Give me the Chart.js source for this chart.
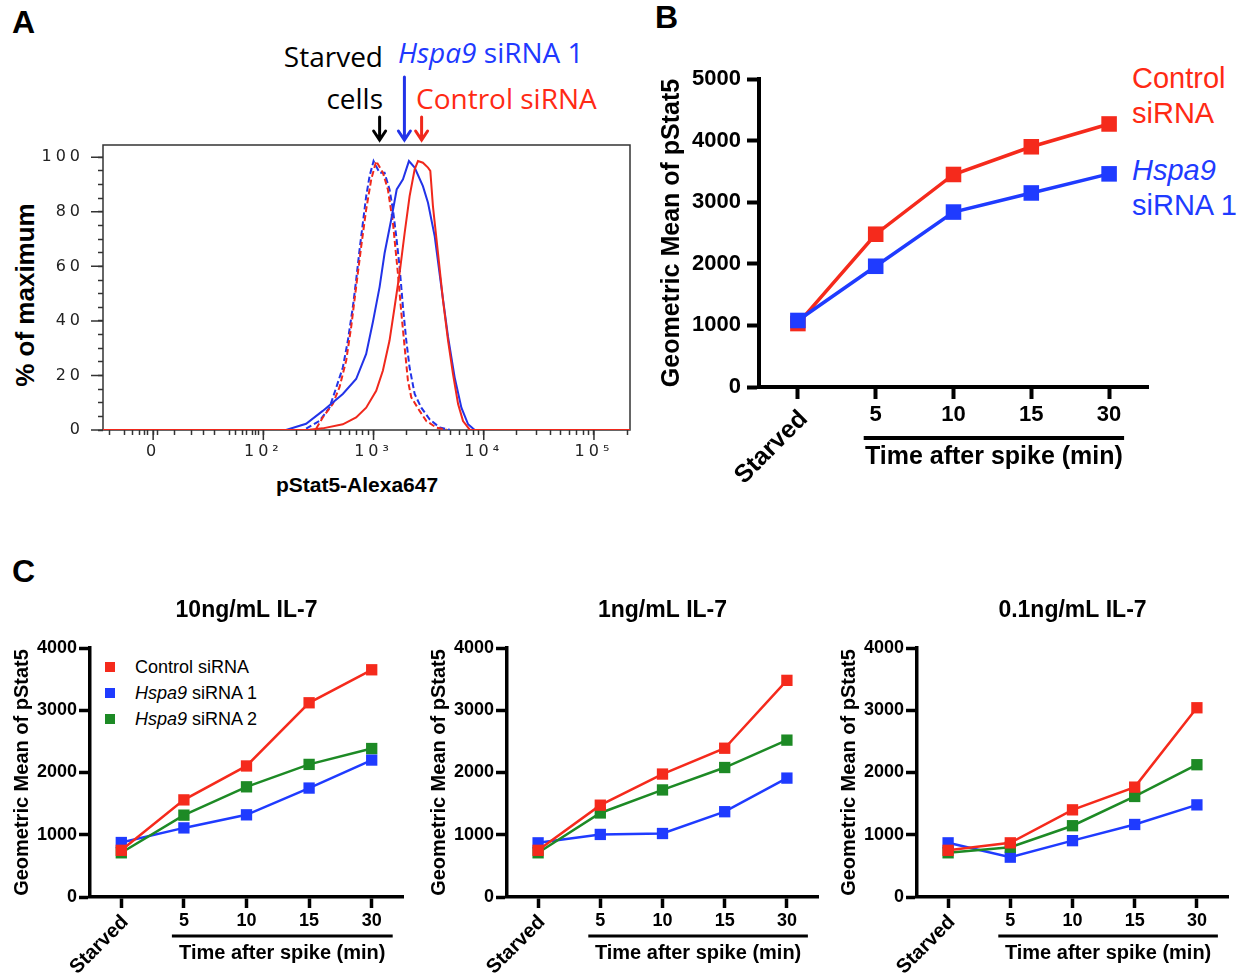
<!DOCTYPE html>
<html>
<head>
<meta charset="utf-8">
<script src="https://cdn.jsdelivr.net/npm/chart.js@4.4.1/dist/chart.umd.min.js"></script>
<style>
  html, body { margin: 0; padding: 0; background: #fff; }
  body { width: 1245px; height: 975px; position: relative; overflow: hidden; font-family: "Liberation Sans", Arial, sans-serif; }
  .box { position: absolute; }
  .lbl { position: absolute; white-space: nowrap; line-height: 1; }
  .panel { font-weight: bold; font-size: 32px; }
  .ann { font-family: "Open Sans", "Noto Sans", sans-serif; font-size: 28px; }
  .rot { transform: translate(-50%, -50%) rotate(-90deg); font-weight: bold; }
  .leg { font-size: 29px; }
  .cleg { font-size: 18px; }
  .sq { position: absolute; width: 10px; height: 10px; }
</style>
</head>
<body>
<div class="lbl panel" style="left:12px;top:6px">A</div>
<div class="lbl panel" style="left:655px;top:1px">B</div>
<div class="lbl panel" style="left:12px;top:555px">C</div>

<!-- panel A annotations -->
<div class="lbl ann" style="right:862px;top:42px">Starved</div>
<div class="lbl ann" style="right:862px;top:84px">cells</div>
<div class="lbl ann" style="left:398px;top:38px;color:#2038ff"><i>Hspa9</i> siRNA 1</div>
<div class="lbl ann" style="left:416px;top:84px;color:#ff2a14">Control siRNA</div>
<div class="lbl rot" style="left:25px;top:295px;font-size:26px">% of maximum</div>
<div class="lbl" style="left:357px;top:484px;transform:translate(-50%,-50%);font-weight:bold;font-size:21px">pStat5-Alexa647</div>

<!-- panel B legend -->
<div class="lbl leg" style="left:1132px;top:64px;color:#ff2a14">Control</div>
<div class="lbl leg" style="left:1132px;top:99px;color:#ff2a14">siRNA</div>
<div class="lbl leg" style="left:1132px;top:156px;color:#1f3bff"><i>Hspa9</i></div>
<div class="lbl leg" style="left:1132px;top:191px;color:#1f3bff">siRNA 1</div>

<!-- panel C legend -->
<div class="sq" style="left:105px;top:662px;background:#f52a1c"></div>
<div class="sq" style="left:105px;top:688px;background:#1f3bff"></div>
<div class="sq" style="left:105px;top:714px;background:#1d8a25"></div>
<div class="lbl cleg" style="left:135px;top:658px">Control siRNA</div>
<div class="lbl cleg" style="left:135px;top:684px"><i>Hspa9</i> siRNA 1</div>
<div class="lbl cleg" style="left:135px;top:710px"><i>Hspa9</i> siRNA 2</div>

<div class="box" style="left:0;top:0;width:640px;height:500px"><canvas id="histA"></canvas></div>
<div class="box" style="left:640px;top:0;width:605px;height:500px"><canvas id="lineB"></canvas></div>
<div class="box" style="left:0;top:560px;width:415px;height:415px"><canvas id="c10"></canvas></div>
<div class="box" style="left:415px;top:560px;width:415px;height:415px"><canvas id="c1"></canvas></div>
<div class="box" style="left:830px;top:560px;width:415px;height:415px"><canvas id="c01"></canvas></div>

<script>
// DATOS
const timeLabels = ['Starved', '5', '10', '15', '30'];
const xAxisTitle = 'Time after spike (min)';
const yAxisTitle = 'Geometric Mean of pStat5';

// panel B
const bControl = [1030, 2480, 3450, 3900, 4270];
const bHspa9 = [1080, 1960, 2840, 3150, 3460];

// panel C
const cTitles = ['10ng/mL IL-7', '1ng/mL IL-7', '0.1ng/mL IL-7'];
const c10Control = [750, 1560, 2105, 3120, 3650];
const c10Hspa9a = [875, 1110, 1320, 1750, 2200];
const c10Hspa9b = [710, 1315, 1770, 2130, 2385];
const c1Control = [750, 1475, 1975, 2390, 3480];
const c1Hspa9a = [870, 1005, 1020, 1370, 1910];
const c1Hspa9b = [710, 1350, 1720, 2080, 2520];
const c01Control = [750, 870, 1400, 1765, 3040];
const c01Hspa9a = [870, 640, 905, 1165, 1480];
const c01Hspa9b = [710, 800, 1145, 1615, 2125];

// panel A: x = posicion en decadas del eje, y = % of maximum
const ctrlX = [0.545, 2.418, 2.539, 2.721, 2.842, 2.933, 3.024, 3.085, 3.145, 3.191, 3.236, 3.282, 3.327, 3.373, 3.403, 3.448, 3.494, 3.515, 3.539, 3.585, 3.630, 3.676, 3.721, 3.767, 3.812, 3.873, 5.327];
const ctrlY = [0, 0.1, 0.6, 2.1, 4.6, 8.2, 14.4, 21.8, 32.8, 45.1, 57.4, 72.2, 85.7, 95.6, 98.6, 98.0, 96.2, 95.0, 82.0, 64.8, 47.6, 32.8, 20.5, 9.5, 3.3, 0.1, 0];
const hspaX = [2.206, 2.388, 2.539, 2.721, 2.842, 2.933, 2.994, 3.055, 3.10, 3.16, 3.21, 3.267, 3.321, 3.373, 3.448, 3.494, 3.555, 3.615, 3.676, 3.736, 3.797, 3.858, 3.918];
const hspaY = [0, 2.3, 7, 13.2, 18.7, 27.9, 39.6, 52.5, 64.8, 77.1, 88.2, 91.9, 98.6, 96.2, 89.4, 83.3, 71.0, 52.5, 34.1, 19.3, 8.2, 2.1, 0];
const ctrlStarvX = [2.479, 2.539, 2.630, 2.691, 2.752, 2.797, 2.842, 2.888, 2.933, 2.979, 3.024, 3.085, 3.130, 3.176, 3.221, 3.252, 3.282, 3.312, 3.342, 3.418, 3.479, 3.570, 3.661];
const ctrlStarvY = [0.5, 4.6, 9.5, 15.7, 25.5, 37.8, 52.5, 67.3, 80.8, 91.9, 98.6, 94.3, 88.2, 75.9, 57.4, 43.0, 30.4, 18.1, 12.0, 7.0, 3.3, 0.9, 0.1];
const hspaStarvX = [2.388, 2.509, 2.6, 2.661, 2.721, 2.767, 2.812, 2.842, 2.873, 2.903, 2.933, 2.964, 3.0, 3.055, 3.1, 3.145, 3.176, 3.206, 3.236, 3.267, 3.297, 3.327, 3.373, 3.433, 3.509, 3.6, 3.691];
const hspaStarvY = [0.5, 3.3, 8.2, 15.5, 22.9, 32.8, 45.1, 55.0, 66.1, 75.9, 85.7, 93.1, 98.6, 94.3, 94.3, 88.2, 80.8, 71.0, 59.9, 45.1, 32.8, 22.9, 13.2, 8.2, 3.9, 0.9, 0.1];

const histMajorPos = [1, 2, 3, 4, 5];
const histMajorLabels = ['0', '10²', '10³', '10⁴', '10⁵'];
const histNearZero = [0.6, 0.74, 0.81, 0.88, 0.92, 0.95, 1.04, 1.19, 1.35, 1.46, 1.56, 1.69, 1.75, 1.81, 1.85, 1.9, 1.93, 1.96];
const arrowPos = [3.055, 3.28, 3.436];
const arrowTop = [117, 77, 117];

const rojo = '#f52a1c', azul = '#1f3bff', verde = '#1d8a25';
const rojoA = '#f0281c', azulA = '#2233e8';

// ticks del eje x (biexponencial)
const histTicks = [...histNearZero, ...histMajorPos];
for (let d = 2; d <= 5; d++) {
  for (let k = 2; k <= 9; k++) {
    const p = d + Math.log10(k);
    if (p < 5.33) histTicks.push(p);
  }
}
histTicks.sort((a, b) => a - b);

function puntos(xs, ys) {
  return xs.map((x, i) => ({ x, y: ys[i] }));
}

function curva(xs, ys, color, dash) {
  return { data: puntos(xs, ys), borderColor: color, borderDash: dash, borderWidth: 2, pointRadius: 0, tension: 0 };
}

const decorA = {
  id: 'decorA',
  beforeDraw(chart) { chart.ctx.letterSpacing = '4px'; },
  beforeDatasetsDraw(chart) {
    const { ctx, chartArea: ca, scales: { x, y } } = chart;
    ctx.save();
    ctx.letterSpacing = '0px';
    ctx.strokeStyle = '#333';
    ctx.lineWidth = 1.5;
    ctx.strokeRect(ca.left, ca.top, ca.right - ca.left, ca.bottom - ca.top);
    ctx.beginPath();
    for (let v = 0; v <= 100; v += 20) {
      const py = y.getPixelForValue(v);
      ctx.moveTo(ca.left - 12, py); ctx.lineTo(ca.left, py);
    }
    histMajorPos.forEach(p => {
      const px = x.getPixelForValue(p);
      ctx.moveTo(px, ca.bottom); ctx.lineTo(px, ca.bottom + 10);
    });
    ctx.stroke();
    ctx.restore();
  },
  afterDraw(chart) {
    const { ctx, chartArea: ca, scales: { x } } = chart;
    const colores = ['#000', azulA, rojoA];
    ctx.save();
    ctx.letterSpacing = '0px';
    ctx.lineWidth = 3;
    ctx.lineCap = 'round';
    arrowPos.forEach((p, i) => {
      const px = x.getPixelForValue(p);
      const tip = ca.top - 5;
      ctx.strokeStyle = colores[i];
      ctx.beginPath();
      ctx.moveTo(px, arrowTop[i]); ctx.lineTo(px, tip);
      ctx.moveTo(px - 6, tip - 9); ctx.lineTo(px, tip); ctx.lineTo(px + 6, tip - 9);
      ctx.stroke();
    });
    ctx.restore();
  }
};

new Chart(document.getElementById('histA'), {
  type: 'line',
  data: {
    datasets: [
      curva(ctrlX, ctrlY, rojoA, []),
      curva(hspaX, hspaY, azulA, []),
      curva(ctrlStarvX, ctrlStarvY, rojoA, [6, 3]),
      curva(hspaStarvX, hspaStarvY, azulA, [6, 3])
    ]
  },
  options: {
    responsive: true, maintainAspectRatio: false, animation: false,
    layout: { padding: { top: 145, right: 10, left: 0, bottom: 0 } },
    plugins: { legend: { display: false }, tooltip: { enabled: false } },
    scales: {
      x: {
        type: 'linear', min: 0.545, max: 5.327,
        afterBuildTicks: s => { s.ticks = histTicks.map(v => ({ value: v })); },
        afterFit: s => { s.height = 70; },
        ticks: {
          autoSkip: false, maxRotation: 0, minRotation: 0, padding: 7, color: '#222',
          font: { family: 'DejaVu Sans', size: 16 },
          callback: v => {
            const i = histMajorPos.findIndex(p => Math.abs(p - v) < 1e-6);
            return i >= 0 ? histMajorLabels[i] : '';
          }
        },
        grid: { drawOnChartArea: false, tickLength: 5, tickColor: '#333', tickWidth: 1.5 },
        border: { display: false }
      },
      y: {
        min: 0, max: 104.5,
        afterFit: s => { s.width = 103; },
        ticks: {
          stepSize: 5, includeBounds: false, autoSkip: false, padding: 14, color: '#222',
          font: { family: 'DejaVu Sans', size: 16 },
          callback: v => (v % 20 === 0 ? String(v) : '')
        },
        grid: { drawOnChartArea: false, tickLength: 5, tickColor: '#333', tickWidth: 1.5 },
        border: { display: false }
      }
    }
  },
  plugins: [decorA]
});

// decoraciones del eje de tiempo
const timeDecor = {
  id: 'timeDecor',
  afterDraw(chart, args, o) {
    const { ctx, chartArea: ca, scales: { x } } = chart;
    ctx.save();
    ctx.fillStyle = '#000';
    ctx.strokeStyle = '#000';
    const sx = x.getPixelForValue(0);
    ctx.save();
    ctx.translate(sx + o.starvedDx, ca.bottom + o.starvedDy);
    ctx.rotate(-Math.PI / 4);
    ctx.font = o.starvedFont;
    ctx.textAlign = 'right';
    ctx.textBaseline = 'middle';
    ctx.fillText(timeLabels[0], 0, 0);
    ctx.restore();

    const x1 = x.getPixelForValue(1) - o.lineExt[0];
    const x2 = x.getPixelForValue(4) + o.lineExt[1];
    ctx.lineWidth = o.lineWidth;
    ctx.beginPath();
    ctx.moveTo(x1, ca.bottom + o.lineDy);
    ctx.lineTo(x2, ca.bottom + o.lineDy);
    ctx.stroke();
    ctx.font = o.textFont;
    ctx.textAlign = 'center';
    ctx.textBaseline = 'middle';
    ctx.fillText(xAxisTitle, (x1 + x2) / 2, ca.bottom + o.textDy);
    if (o.title) {
      ctx.font = o.titleFont;
      ctx.fillText(o.title, (ca.left + ca.right) / 2, o.titleY);
    }
    ctx.restore();
  }
};

function serie(valores, color, orden, radio, grosor) {
  return {
    data: valores, borderColor: color, backgroundColor: color, order: orden,
    pointStyle: 'rect', pointRadius: radio, pointBorderWidth: 0, borderWidth: grosor, tension: 0
  };
}

function ejes(cfg) {
  return {
    x: {
      type: 'category', labels: timeLabels, offset: true,
      afterFit: s => { s.height = cfg.xHeight; },
      ticks: {
        autoSkip: false, maxRotation: 0, minRotation: 0, padding: cfg.xPad, color: '#000',
        font: { family: 'Liberation Sans', weight: 'bold', size: cfg.tickSize },
        callback: (v, i) => (i === 0 ? '' : timeLabels[i])
      },
      grid: { drawOnChartArea: false, offset: false, tickLength: cfg.tickLen, tickWidth: cfg.axisW, tickColor: '#000' },
      border: { display: true, width: cfg.axisW, color: '#000' }
    },
    y: {
      min: 0, max: cfg.yMax,
      afterFit: s => { s.width = cfg.yWidth; },
      ticks: {
        stepSize: 1000, padding: cfg.yPad, color: '#000',
        font: { family: 'Liberation Sans', weight: 'bold', size: cfg.tickSize },
        callback: v => String(v)
      },
      grid: { drawOnChartArea: false, tickLength: cfg.tickLen, tickWidth: cfg.axisW, tickColor: '#000' },
      border: { display: true, width: cfg.axisW, color: '#000' },
      title: {
        display: true, text: yAxisTitle, color: '#000',
        font: { family: 'Liberation Sans', weight: 'bold', size: cfg.titleSize },
        padding: { top: cfg.titlePad, bottom: 0 }
      }
    }
  };
}

new Chart(document.getElementById('lineB'), {
  type: 'line',
  data: {
    labels: timeLabels,
    datasets: [serie(bControl, rojo, 1, 11, 3.5), serie(bHspa9, azul, 0, 11, 3.5)]
  },
  options: {
    responsive: true, maintainAspectRatio: false, animation: false,
    layout: { padding: { top: 79, right: 97, left: 0, bottom: 0 } },
    plugins: {
      legend: { display: false }, tooltip: { enabled: false },
      timeDecor: {
        starvedDx: 6, starvedDy: 28, starvedFont: 'bold 25px "Liberation Sans"',
        lineExt: [12, 15], lineDy: 51, lineWidth: 4, textDy: 70, textFont: 'bold 25px "Liberation Sans"'
      }
    },
    scales: ejes({ xHeight: 113, yWidth: 119, xPad: 3, yPad: 6, tickLen: 12, axisW: 4, tickSize: 22, titleSize: 25, titlePad: 17, yMax: 5000 })
  },
  plugins: [timeDecor]
});

function panelC(id, titulo, ctrl, h1, h2, left, right) {
  new Chart(document.getElementById(id), {
    type: 'line',
    data: {
      labels: timeLabels,
      datasets: [serie(ctrl, rojo, 0, 8, 2.5), serie(h1, azul, 2, 8, 2.5), serie(h2, verde, 1, 8, 2.5)]
    },
    options: {
      responsive: true, maintainAspectRatio: false, animation: false,
      layout: { padding: { top: 88, right: 415 - right, left: 0, bottom: 0 } },
      plugins: {
        legend: { display: false }, tooltip: { enabled: false },
        timeDecor: {
          starvedDx: 4, starvedDy: 22, starvedFont: 'bold 20px "Liberation Sans"',
          lineExt: [12, 21], lineDy: 39, lineWidth: 3, textDy: 56, textFont: 'bold 20px "Liberation Sans"',
          title: titulo, titleY: 51, titleFont: 'bold 23px "Liberation Sans"'
        }
      },
      scales: ejes({ xHeight: 78, yWidth: left, xPad: 2, yPad: 2, tickLen: 11, axisW: 3.5, tickSize: 18, titleSize: 20, titlePad: left - 80, yMax: 4000 })
    },
    plugins: [timeDecor]
  });
}

panelC('c10', cTitles[0], c10Control, c10Hspa9a, c10Hspa9b, 90, 403);
panelC('c1', cTitles[1], c1Control, c1Hspa9a, c1Hspa9b, 92, 403);
panelC('c01', cTitles[2], c01Control, c01Hspa9a, c01Hspa9b, 87, 398);
</script>
</body>
</html>
